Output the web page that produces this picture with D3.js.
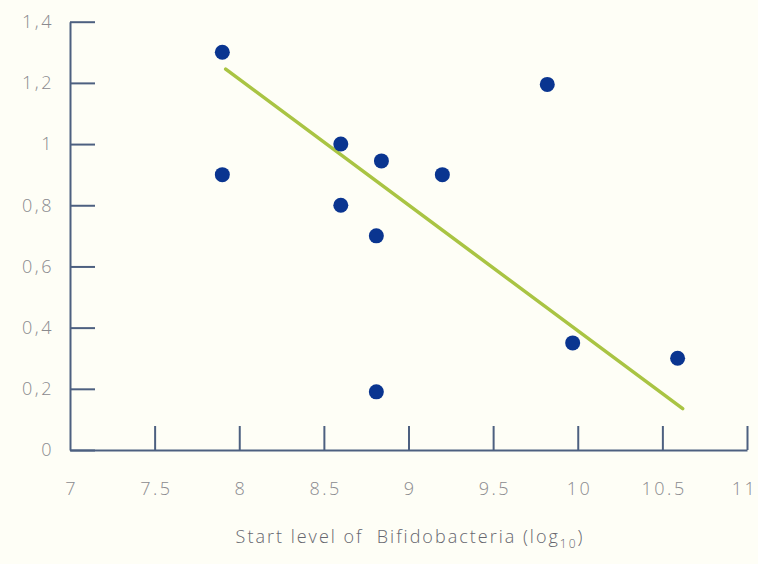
<!DOCTYPE html>
<html lang="en">
<head>
<meta charset="UTF-8">
<title>Start level of Bifidobacteria</title>
<script src="https://cdnjs.cloudflare.com/ajax/libs/d3/7.8.5/d3.min.js"></script>
<style>
    body { margin: 0; background: #fefef6; }
    svg { display: block; }
    text { font-family: "Open Sans", "DejaVu Sans", sans-serif; }
</style>
</head>
<body>
<svg width="758" height="564"></svg>
<script>
    // data
    const startLevel = [7.9, 7.9, 8.6, 8.6, 8.84, 8.81, 9.2, 9.82, 9.97, 10.59, 8.81];
    const change     = [1.3, 0.9, 1.0, 0.8, 0.945, 0.7, 0.9, 1.195, 0.35, 0.30, 0.19];
    const trendX = [7.92, 10.62];
    const trendY = [1.245, 0.135];
    const xTicks = [7, 7.5, 8, 8.5, 9, 9.5, 10, 10.5, 11];
    const yTicks = [0, 0.2, 0.4, 0.6, 0.8, 1, 1.2, 1.4];
    const yTickLabels = ["0", "0,2", "0,4", "0,6", "0,8", "1", "1,2", "1,4"];

    const axisColor = "#4d6080";
    const labelColor = "#8a8a8e";

    const svg = d3.select("svg");
    const x = d3.scaleLinear().domain([7, 11]).range([70, 747]);
    const y = d3.scaleLinear().domain([0, 1.4]).range([450, 21.7]);

    const xAxis = svg.append("g")
        .attr("transform", "translate(0,450)")
        .call(d3.axisBottom(x).tickValues(xTicks).tickSize(-24).tickSizeOuter(0)
            .tickPadding(32).tickFormat(d => String(d)));

    const yAxis = svg.append("g")
        .attr("transform", "translate(70,0)")
        .call(d3.axisLeft(y).tickValues(yTicks).tickSize(-25).tickSizeOuter(0)
            .tickPadding(16).tickFormat((d, i) => yTickLabels[i]));

    [xAxis, yAxis].forEach(g => {
        g.select(".domain").attr("stroke", axisColor).attr("stroke-width", 2);
        g.selectAll(".tick line").attr("stroke", axisColor).attr("stroke-width", 2);
        g.selectAll(".tick text")
            .attr("fill", labelColor)
            .style("font-size", "18px")
            .style("font-weight", 300)
            .style("letter-spacing", "2.5px");
    });
    // centre the spaced x labels under their ticks
    xAxis.selectAll(".tick text").attr("dx", 1.25);
    // last label would run off the right edge
    xAxis.selectAll(".tick").filter(d => d === 11).select("text").attr("dx", -3);
    // the "7" label sits left of the first tick
    xAxis.selectAll(".tick").filter(d => d === 7).select("line").remove();

    // regression line
    svg.append("line")
        .attr("x1", x(trendX[0])).attr("y1", y(trendY[0]))
        .attr("x2", x(trendX[1])).attr("y2", y(trendY[1]))
        .attr("stroke", "#a9c443")
        .attr("stroke-width", 3.5)
        .attr("stroke-linecap", "round");

    svg.append("g")
        .selectAll("circle")
        .data(startLevel)
        .enter()
        .append("circle")
        .attr("cx", d => x(d))
        .attr("cy", (d, i) => y(change[i]))
        .attr("r", 7.5)
        .attr("fill", "#0a3590");

    const title = svg.append("text")
        .attr("x", 410)
        .attr("y", 543)
        .attr("text-anchor", "middle")
        .attr("fill", "#66666e")
        .style("font-size", "18px")
        .style("font-weight", 300)
        .style("letter-spacing", "2px")
        .style("white-space", "pre");
    title.append("tspan").text("Start level of  Bifidobacteria (log");
    title.append("tspan").attr("dy", 5).style("font-size", "12px").text("10");
    title.append("tspan").attr("dy", -5).text(")");
</script>
</body>
</html>
